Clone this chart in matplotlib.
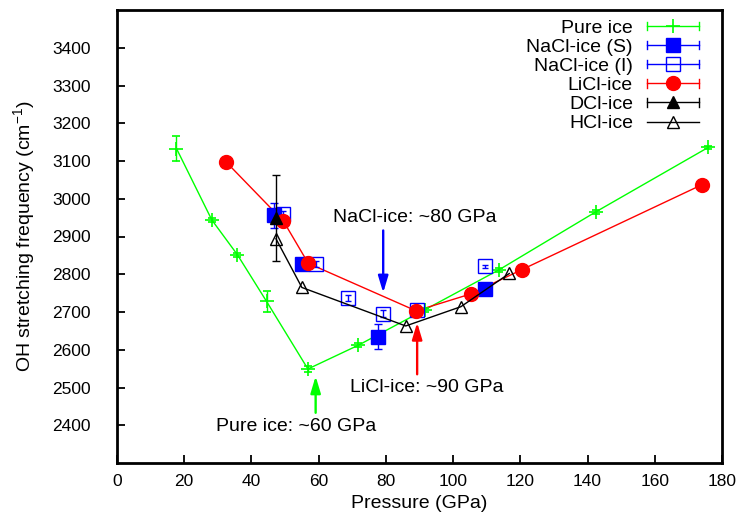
import matplotlib
matplotlib.use("Agg")
import matplotlib.pyplot as plt
from matplotlib.legend_handler import HandlerLine2D
from matplotlib.lines import Line2D
import numpy as np

plt.rcParams['font.family'] = ['Liberation Sans', 'DejaVu Sans']
plt.rcParams['mathtext.default'] = 'regular'

# ---- data ----
pure_x = [17.7, 28.2, 35.8, 44.5, 56.8, 71.8, 91.6, 113.7, 142.4, 175.9]
pure_y = [3133, 2944, 2852, 2728, 2549, 2612, 2706, 2812, 2965, 3136]
pure_err = [33, 5, 5, 27, 8, 5, 5, 5, 5, 5]

nacl_s_x = [46.7, 55.0, 77.6, 109.5]
nacl_s_y = [2956, 2827, 2634, 2761]
nacl_s_err = [33, 5, 33, 5]

nacl_i_x = [49.3, 59.1, 68.8, 79.2, 89.3, 109.5]
nacl_i_y = [2960, 2826, 2738, 2696, 2705, 2821]
nacl_i_err = [8, 8, 8, 10, 8, 4]

licl_x = [32.4, 49.5, 56.9, 89.0, 105.3, 120.4, 174.0]
licl_y = [3098, 2941, 2829, 2703, 2748, 2812, 3037]
licl_err = [3, 3, 3, 3, 3, 3, 3]

dcl_x = [47.3]
dcl_y = [2950]
dcl_err = [114]

hcl_x = [47.3, 55.0, 85.9, 102.3, 116.7]
hcl_y = [2894, 2765, 2663, 2714, 2802]

labels = ['Pure ice', 'NaCl-ice (S)', 'NaCl-ice (I)', 'LiCl-ice', 'DCl-ice', 'HCl-ice']

ann_text = ['NaCl-ice: ~80 GPa', 'LiCl-ice: ~90 GPa', 'Pure ice: ~60 GPa']
ann_text_xy = [(64.4, 2951), (69.4, 2501), (29.4, 2397)]
ann_tip = [(79.2, 2751), (89.3, 2672), (59.1, 2530)]
ann_tail = [(79.2, 2916), (89.3, 2535), (59.1, 2433)]
ann_color = ['#0000ff', '#ff0000', '#00ff00']

GREEN = '#00ff00'
BLUE = '#0000ff'
RED = '#ff0000'
BLACK = '#000000'

fig = plt.figure(figsize=(7.41, 5.21), dpi=100)
L, R, B, T = 117/741, 722/741, 1 - 463/521, 1 - 10/521
ax = fig.add_axes([L, B, R - L, T - B])

lw = 1.0
cap = 2.7
# Pure ice
ax.plot(pure_x, pure_y, color=GREEN, lw=lw, zorder=2)
ax.errorbar(pure_x, pure_y, yerr=pure_err, fmt='+', color=GREEN, ms=10, mew=1.2,
            elinewidth=1.0, capsize=cap, capthick=1.0, zorder=3)
# NaCl S
ax.errorbar(nacl_s_x, nacl_s_y, yerr=nacl_s_err, fmt='s', color=BLUE, ms=10,
            elinewidth=1.0, capsize=cap, capthick=1.0, zorder=4)
# NaCl I
ax.errorbar(nacl_i_x, nacl_i_y, yerr=nacl_i_err, fmt='s', color=BLUE, mfc='none', mec=BLUE,
            ms=10, mew=1.0, elinewidth=1.0, capsize=2.0, capthick=1.0, zorder=5)
# LiCl
ax.plot(licl_x, licl_y, color=RED, lw=lw, zorder=2)
ax.errorbar(licl_x, licl_y, yerr=licl_err, fmt='o', color=RED, ms=10,
            elinewidth=1.0, capsize=cap, zorder=6)
# DCl
ax.errorbar(dcl_x, dcl_y, yerr=dcl_err, fmt='^', color=BLACK, ms=9,
            elinewidth=1.0, capsize=cap, capthick=1.0, zorder=7)
# HCl
ax.plot(hcl_x, hcl_y, color=BLACK, lw=lw, marker='^', ms=9, mfc='none', mec=BLACK,
        mew=1.0, zorder=7)

# annotations
for txt, txy, tip, tail, c in zip(ann_text, ann_text_xy, ann_tip, ann_tail, ann_color):
    ax.annotate('', xy=tip, xytext=tail,
                arrowprops=dict(arrowstyle='-|>,head_length=0.5,head_width=0.15',
                                mutation_scale=20, color=c, lw=1.7,
                                shrinkA=0, shrinkB=0), zorder=8)
    ax.text(txy[0], txy[1], txt, fontsize=14, ha='left', va='center', zorder=9)

ax.set_xlim(0, 180)
ax.set_ylim(2300, 3500)
ax.set_xticks(np.arange(0, 181, 20))
ax.set_yticks(np.arange(2400, 3401, 100))
ax.tick_params(direction='in', length=6, width=1.3, labelsize=12.5)
ax.tick_params(axis='y', pad=19)
ax.tick_params(axis='x', pad=8)
for s in ax.spines.values():
    s.set_linewidth(2.0)

ax.set_xlabel('Pressure (GPa)', fontsize=14, labelpad=4)
ax.set_ylabel('OH stretching frequency (cm$^{-1}$)', fontsize=14, labelpad=11)


class CapHandler(HandlerLine2D):
    def __init__(self, caps=True, **kw):
        super().__init__(**kw)
        self.caps = caps

    def create_artists(self, legend, orig_handle, xdescent, ydescent, width, height,
                       fontsize, trans):
        arts = super().create_artists(legend, orig_handle, xdescent, ydescent, width,
                                      height, fontsize, trans)
        if self.caps:
            y = (height - ydescent) / 2
            c = 0.22 * fontsize
            for x in (-xdescent, -xdescent + width):
                ln = Line2D([x, x], [y - c, y + c], color=orig_handle.get_color(),
                            lw=1.0, transform=trans)
                arts.append(ln)
        return arts


h_pure = Line2D([], [], color=GREEN, lw=1.0, marker='+', ms=10, mew=1.2)
h_ns = Line2D([], [], color=BLUE, lw=1.0, marker='s', ms=10)
h_ni = Line2D([], [], color=BLUE, lw=1.0, marker='s', ms=10, mfc='none', mec=BLUE)
h_li = Line2D([], [], color=RED, lw=1.0, marker='o', ms=10)
h_d = Line2D([], [], color=BLACK, lw=1.0, marker='^', ms=9)
h_h = Line2D([], [], color=BLACK, lw=1.0, marker='^', ms=9, mfc='none', mec=BLACK)
handles = [h_pure, h_ns, h_ni, h_li, h_d, h_h]
hmap = {h: CapHandler(caps=True, numpoints=1) for h in handles[:5]}
hmap[h_h] = CapHandler(caps=False, numpoints=1)

leg = ax.legend(handles, labels, handler_map=hmap, loc='upper right',
                bbox_to_anchor=((699 - 117) / 605, 1 - (19 - 10) / 453),
                frameon=False, markerfirst=False, fontsize=14, borderpad=0,
                borderaxespad=0, handlelength=2.7, handletextpad=0.7,
                labelspacing=0.08, numpoints=1)

fig.savefig('out.png', dpi=100)
